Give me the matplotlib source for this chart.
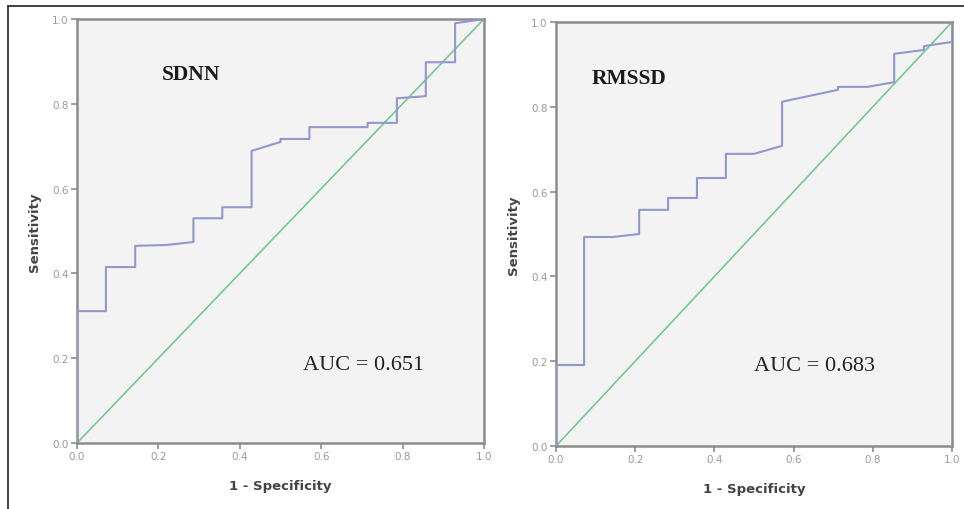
import matplotlib
matplotlib.use("Agg")
import matplotlib.pyplot as plt
from matplotlib.lines import Line2D

# SDNN ROC curve vertices (1 - specificity, sensitivity)
sdnn_fpr = [0.0, 0.0, 0.071, 0.071, 0.143, 0.143, 0.22, 0.286, 0.286, 0.357, 0.357,
            0.429, 0.429, 0.5, 0.5, 0.571, 0.571, 0.714, 0.714, 0.786, 0.786,
            0.857, 0.857, 0.929, 0.929, 1.0]
sdnn_tpr = [0.0, 0.311, 0.311, 0.415, 0.415, 0.465, 0.467, 0.474, 0.53, 0.53, 0.556,
            0.556, 0.689, 0.71, 0.717, 0.717, 0.745, 0.745, 0.755, 0.755, 0.813,
            0.818, 0.898, 0.898, 0.99, 1.0]

# RMSSD ROC curve vertices
rmssd_fpr = [0.0, 0.0, 0.071, 0.071, 0.144, 0.21, 0.21, 0.283, 0.283, 0.356, 0.356,
             0.429, 0.429, 0.5, 0.571, 0.571, 0.712, 0.712, 0.786, 0.854, 0.854,
             0.929, 0.929, 1.0, 1.0]
rmssd_tpr = [0.0, 0.191, 0.191, 0.493, 0.493, 0.5, 0.557, 0.557, 0.585, 0.585, 0.632,
             0.632, 0.689, 0.689, 0.708, 0.812, 0.84, 0.847, 0.847, 0.858, 0.925,
             0.934, 0.943, 0.953, 1.0]

ticks = [0.0, 0.2, 0.4, 0.6, 0.8, 1.0]
tick_labels = ["0.0", "0.2", "0.4", "0.6", "0.8", "1.0"]

panels = [
    {"title": "SDNN", "auc": "AUC = 0.651", "fpr": sdnn_fpr, "tpr": sdnn_tpr,
     "rect": [77/964, 1-444/510, 407/964, 424/510], "tpos": (0.28, 0.87), "apos": (0.703, 0.186)},
    {"title": "RMSSD", "auc": "AUC = 0.683", "fpr": rmssd_fpr, "tpr": rmssd_tpr,
     "rect": [556/964, 1-447/510, 396/964, 424/510], "tpos": (0.185, 0.868), "apos": (0.654, 0.189)},
]

fig = plt.figure(figsize=(9.64, 5.10), dpi=100)
fig.patch.set_facecolor("white")

# outer frame lines (top and left)
fig.add_artist(Line2D([8/964, 1.0], [1-7/510, 1-7/510], color="#333333", lw=1.3))
fig.add_artist(Line2D([8/964, 8/964], [0.0, 1-7/510], color="#333333", lw=1.3))

spine_c = "#8c8c8c"
for p in panels:
    ax = fig.add_axes(p["rect"])
    ax.set_facecolor("#f3f3f3")
    ax.plot([0, 1], [0, 1], color="#74c98f", lw=1.2, zorder=2)
    ax.plot(p["fpr"], p["tpr"], color="#9297cc", lw=1.5, zorder=3)
    ax.set_xlim(0, 1)
    ax.set_ylim(0, 1)
    ax.set_xticks(ticks)
    ax.set_yticks(ticks)
    ax.set_xticklabels(tick_labels)
    ax.set_yticklabels(tick_labels)
    for s in ax.spines.values():
        s.set_color(spine_c)
        s.set_linewidth(1.8)
    ax.tick_params(direction="out", length=4, width=1.2, color=spine_c,
                   labelcolor="#9a9a9a", labelsize=7.5, pad=2)
    ax.set_xlabel("1 - Specificity", fontsize=9.5, fontweight="bold", color="#444444", labelpad=13)
    ax.set_ylabel("Sensitivity", fontsize=9.5, fontweight="bold", color="#444444", labelpad=8)
    ax.text(p["tpos"][0], p["tpos"][1], p["title"], family="Liberation Serif",
            fontweight="bold", fontsize=15.5, color="#1a1a1a", ha="center", va="center")
    ax.text(p["apos"][0], p["apos"][1], p["auc"], family="Liberation Serif",
            fontsize=16, color="#222222", ha="center", va="center")

fig.savefig("out.png", dpi=100, facecolor="white")
